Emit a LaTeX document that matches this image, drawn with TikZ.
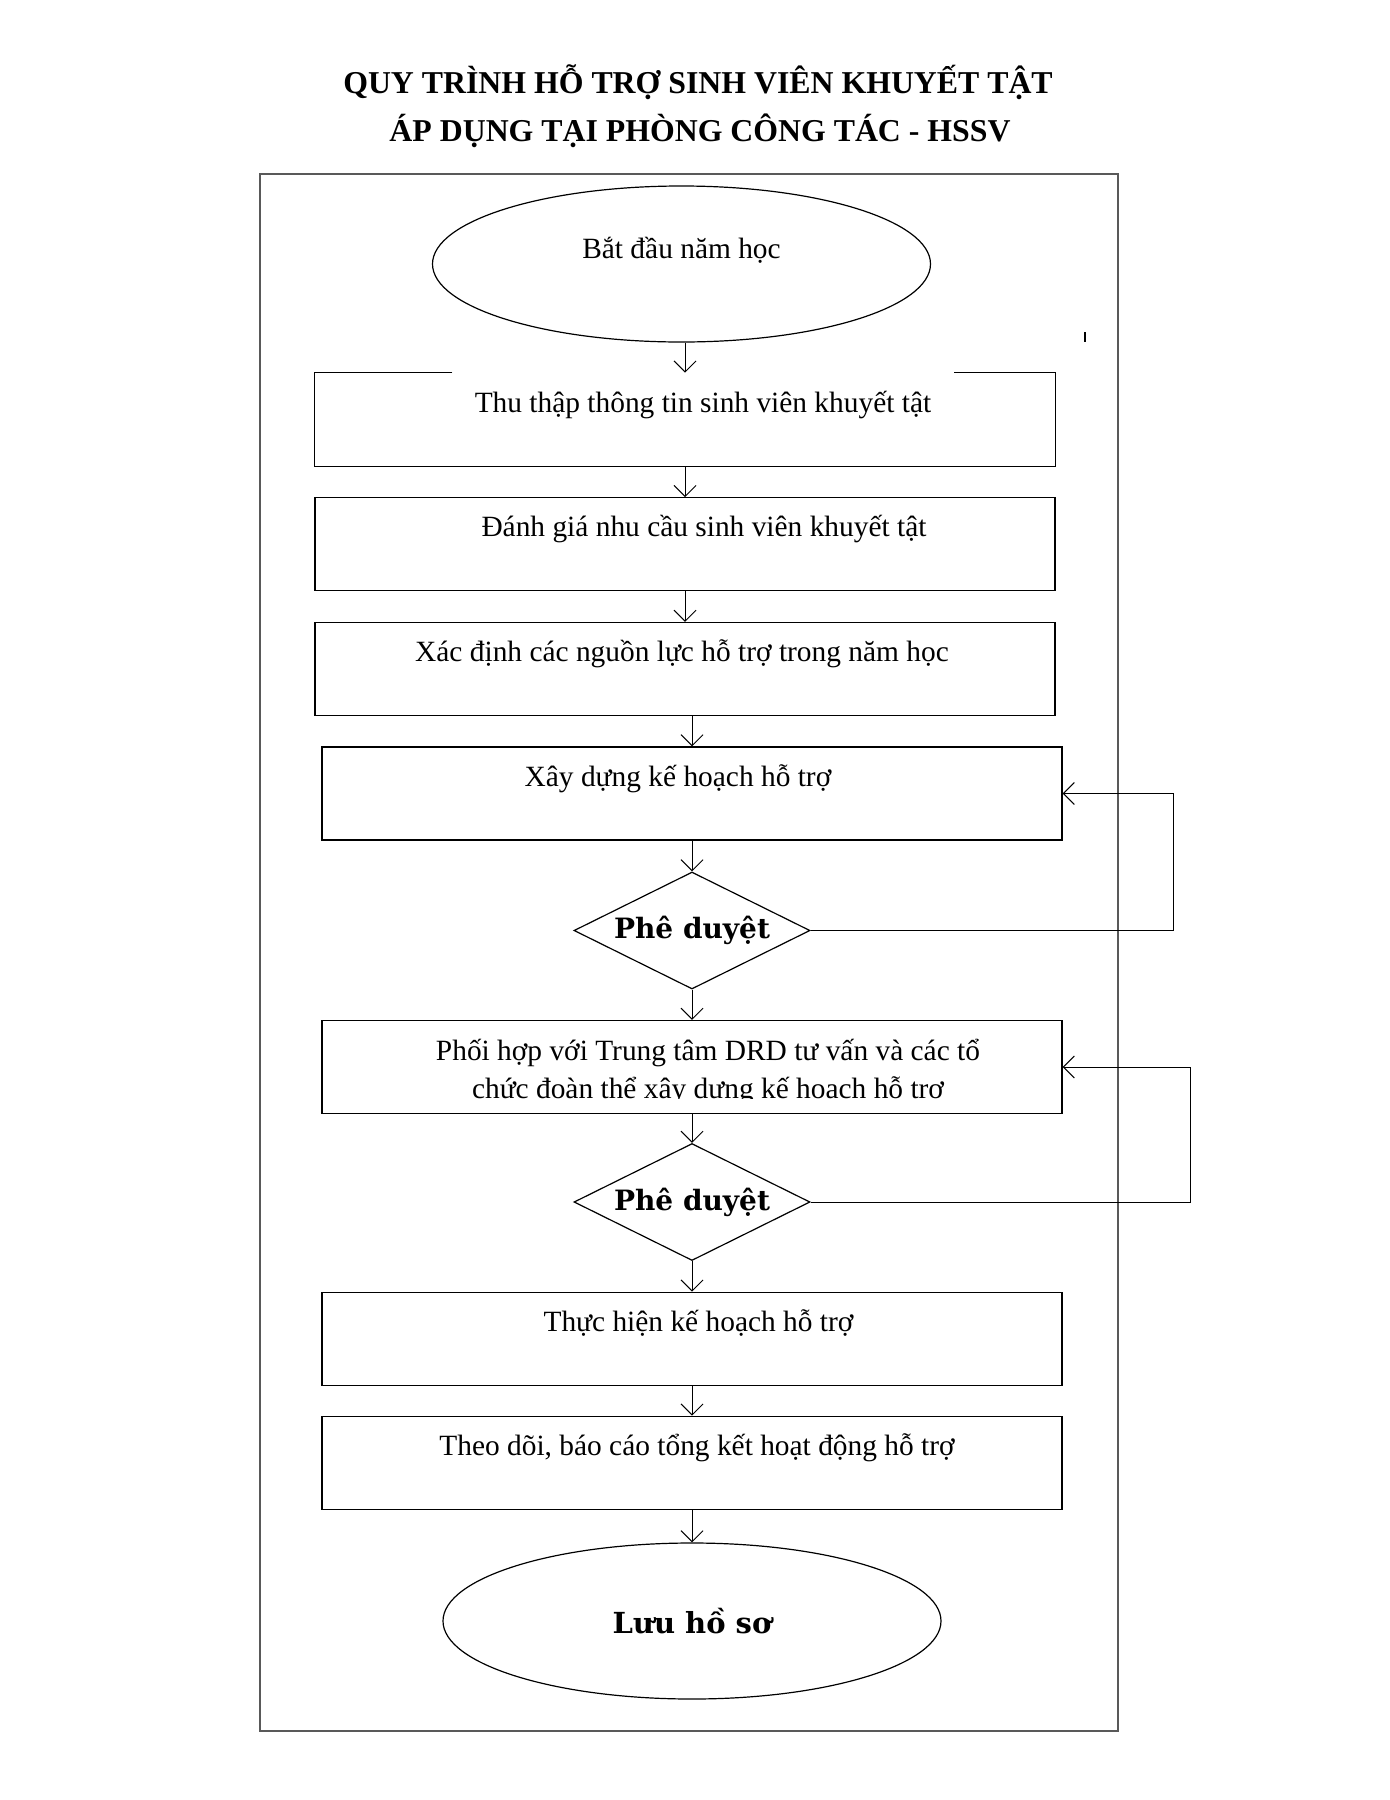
\documentclass[tikz,border=0pt]{standalone}
\usepackage{fontspec}
\setmainfont{Liberation Serif}
\newfontfamily\approvefont{DejaVu Serif}
\usetikzlibrary{arrows.meta,shapes.geometric}

\begin{document}
\begin{tikzpicture}
[x=0.5pt,y=-0.5pt,
 stepbox/.style={draw=black,line width=0.6pt,rectangle,minimum width=370pt,minimum height=46.5pt,inner sep=0pt,
   align=center,font=\fontsize{14.7}{19}\selectfont,text height=11pt,text depth=18.5pt},
 endpoint/.style={draw=black,line width=0.6pt,ellipse,minimum width=249pt,minimum height=78pt,inner sep=0pt},
 check/.style={draw=black,line width=0.6pt,diamond,aspect=2,minimum width=118pt,minimum height=58.5pt,inner sep=0pt,
   font=\approvefont\bfseries\fontsize{14}{16}\selectfont},
 heading/.style={anchor=base,font=\bfseries\fontsize{15.9}{19}\selectfont},
 flow/.style={line width=0.5pt,-{Straight Barb[length=5.5pt,width=11pt]}}]

\useasboundingbox (0,0) rectangle (1390,1800);

\node[heading] (title1) at (698,93) {QUY TRÌNH HỖ TRỢ SINH VIÊN KHUYẾT TẬT};
\node[heading] (title2) at (700,141.7) {ÁP DỤNG TẠI PHÒNG CÔNG TÁC - HSSV};

\draw[black!65,line width=0.6pt] (260,174) rectangle (1118,1731);

\node[endpoint,font=\fontsize{14.7}{18}\selectfont,text height=10pt,text depth=16pt] (start) at (681.5,264) {Bắt đầu năm học};
\node[stepbox,draw=none] (collect) at (685,419.75) {\hspace*{18pt}Thu thập thông tin sinh viên khuyết tật};
\node[stepbox] (assess) at (685,544.25) {\hspace*{19pt}Đánh giá nhu cầu sinh viên khuyết tật};
\node[stepbox] (resource) at (685,669) {\hspace*{-3pt}Xác định các nguồn lực hỗ trợ trong năm học};
\node[stepbox] (plan) at (692,793.5) {\hspace*{-14pt}Xây dựng kế hoạch hỗ trợ};
\node[check] (approve1) at (692,930.5) {Phê duyệt};
\node[stepbox,text height=33pt,text depth=2pt] (cooperate) at (692,1067) {\hspace*{16pt}Phối hợp với Trung tâm DRD tư vấn và các tổ\\
  \hspace*{16pt}chức đoàn thể xây dựng kế hoạch hỗ trợ};
\node[check] (approve2) at (692,1202) {Phê duyệt};
\node[stepbox] (carry) at (692,1338.75) {\hspace*{6.5pt}Thực hiện kế hoạch hỗ trợ};
\node[stepbox] (report) at (692,1462.75) {\hspace*{5pt}Theo dõi, báo cáo tổng kết hoạt động hỗ trợ};
\node[endpoint,font=\approvefont\bfseries\fontsize{14.5}{16}\selectfont] (archive) at (692,1621) {Lưu hồ sơ};

\draw[line width=0.6pt] ([xshift=69pt]collect.north west) -- (collect.north west) -- (collect.south west)
  -- (collect.south east) -- (collect.north east) -- ([xshift=-51pt]collect.north east);
\fill[white] (324,1099) rectangle (1060,1111.5);
\draw[line width=1pt] (1085,332) -- (1085,342);

\draw[flow] (collect.north |- start.south) -- (collect.north);
\draw[flow] (collect) -- (assess);
\draw[flow] (assess) -- (resource);
\draw[flow] (plan.north |- resource.south) -- (plan.north);
\draw[flow] (plan) -- (approve1);
\draw[flow] (approve1) -- (cooperate);
\draw[flow] (cooperate) -- (approve2);
\draw[flow] (approve2) -- (carry);
\draw[flow] (carry) -- (report);
\draw[flow] (report) -- (archive);
\draw[flow] (approve1.east) -- ++(363,0) |- (plan.east);
\draw[flow] (approve2.east) -- ++(380,0) |- (cooperate.east);
\end{tikzpicture}
\end{document}
